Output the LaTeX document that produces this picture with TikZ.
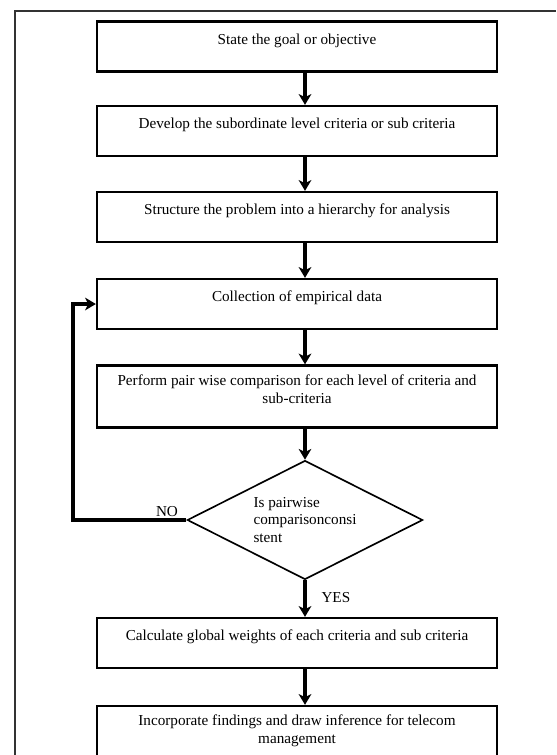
\documentclass[tikz,border=0pt]{standalone}
\usepackage{fontspec}
\setmainfont{Liberation Serif}
\usetikzlibrary{shapes.geometric,arrows.meta}

\tikzset{
	stepbox/.style={draw, line width=1.8pt, minimum width=316pt, minimum height=39.5pt,
		align=center, inner sep=0pt, text depth=12pt, font=\fontsize{12}{14.2}\selectfont},
	decision/.style={diamond, aspect=2, draw, line width=1.3pt, minimum width=186pt, minimum height=94pt,
		align=left, inner sep=0pt, font=\fontsize{12}{14}\selectfont},
	flow/.style={line width=2.7pt, -{Stealth[length=8.5pt,width=10pt,inset=2.5pt]}},
	tag/.style={font=\fontsize{12}{14}\selectfont, inner sep=1pt}
}

\begin{document}
\begin{tikzpicture}[x=0.79pt, y=-0.79pt]
		\useasboundingbox (0,0) rectangle (556,755);

		% outer frame, cut by the page edge
		\draw[line width=1.6pt, black!80] (15,755) |- (556,11);

		\node[stepbox] (goal) at (297,46.5) {State the goal or objective};
		\node[stepbox] (sub) at (297,131) {Develop the subordinate level criteria or sub criteria};
		\node[stepbox] (hier) at (297,217) {Structure the problem into a hierarchy for analysis};
		\node[stepbox] (data) at (297,304) {Collection of empirical data};
		\node[stepbox, minimum height=49pt] (pair) at (297,396.5) {Perform pair wise comparison for each level of criteria and\\ sub-criteria};
		\node[decision] (cons) at (305,520) {Is pairwise\\ comparisonconsi\\ stent};
		\node[stepbox] (glob) at (297,643) {Calculate global weights of each criteria and sub criteria};
		\node[stepbox, minimum height=49pt] (infer) at (297,737) {Incorporate findings and draw inference for telecom\\ management};

		\coordinate (spine) at (cons.center);

		\draw[flow] (goal.south -| spine) -- (sub.north -| spine);
		\draw[flow] (sub.south -| spine) -- (hier.north -| spine);
		\draw[flow] (hier.south -| spine) -- (data.north -| spine);
		\draw[flow] (data.south -| spine) -- (pair.north -| spine);
		\draw[flow] (pair.south -| spine) -- (cons.north);
		\draw[flow] (cons.south) -- (glob.north -| spine);
		\draw[flow] (glob.south -| spine) -- (infer.north -| spine);

		% loop back when not consistent
		\coordinate (back) at (73,0);
		\draw[flow] (cons.west) -- (cons.west -| back) |- (data.west);

		\node[tag, anchor=south] (no) at (167,518) {NO};
		\node[tag, anchor=west] (yes) at (320,598) {YES};

	\end{tikzpicture}
\end{document}
